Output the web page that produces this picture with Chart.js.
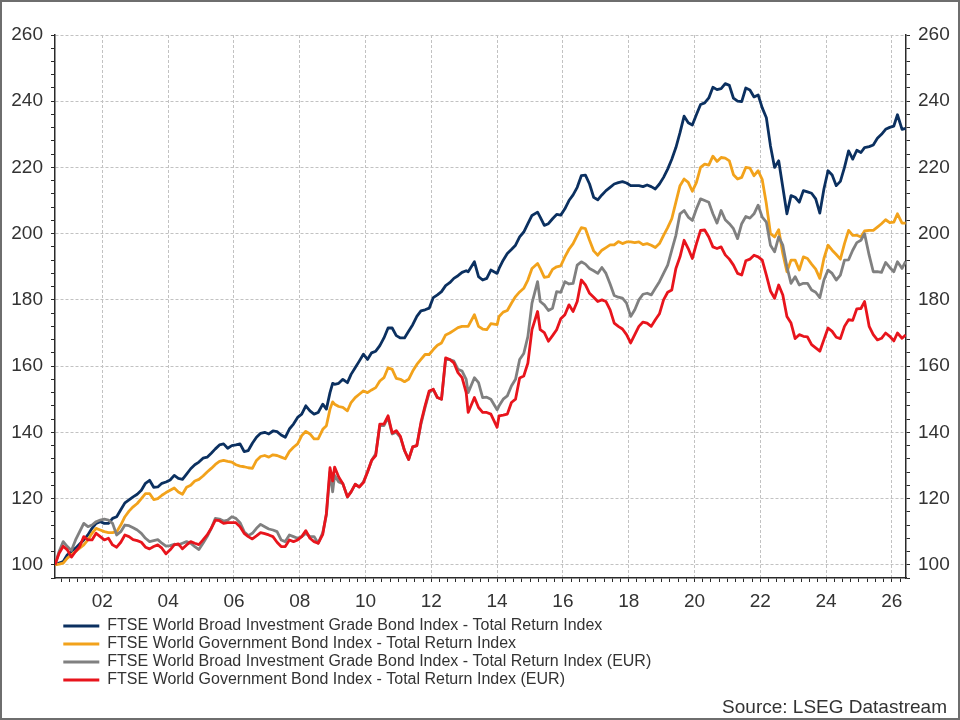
<!DOCTYPE html>
<html>
<head>
<meta charset="utf-8">
<script src="https://cdn.jsdelivr.net/npm/chart.js@4.4.1/dist/chart.umd.min.js"></script>
<style>
html,body{margin:0;padding:0;background:#fff;}
#frame{width:960px;height:720px;box-sizing:border-box;border:2px solid #6e6e6e;background:#fff;}
canvas{display:block;}
</style>
</head>
<body>
<div id="frame"><canvas id="c" width="956" height="716" style="width:956px;height:716px"></canvas></div>
<script>
// Dates as decimal years
const dates = [
2000.56,2000.685,2000.81,2000.935,2001.06,2001.185,2001.31,2001.435,2001.56,2001.685,
2001.81,2001.935,2002.06,2002.185,2002.31,2002.435,2002.56,2002.685,2002.81,2002.935,
2003.06,2003.185,2003.31,2003.435,2003.56,2003.685,2003.81,2003.935,2004.06,2004.185,
2004.31,2004.435,2004.56,2004.685,2004.81,2004.935,2005.06,2005.185,2005.31,2005.435,
2005.56,2005.685,2005.81,2005.935,2006.06,2006.185,2006.31,2006.435,2006.56,2006.685,
2006.81,2006.935,2007.06,2007.185,2007.31,2007.435,2007.56,2007.685,2007.81,2007.935,
2008.06,2008.185,2008.31,2008.435,2008.56,2008.70,2008.81,2008.92,2009.00,2009.06,
2009.185,2009.31,2009.45,2009.56,2009.685,2009.81,2009.935,2010.06,2010.185,2010.31,
2010.435,2010.56,2010.685,2010.81,2010.935,2011.06,2011.185,2011.31,2011.435,2011.56,
2011.685,2011.81,2011.935,2012.06,2012.185,2012.31,2012.435,2012.56,2012.685,2012.81,
2012.935,2013.06,2013.12,2013.31,2013.435,2013.56,2013.685,2013.81,2014.00,2014.06,
2014.185,2014.31,2014.435,2014.56,2014.685,2014.81,2014.935,2015.06,2015.23,2015.31,
2015.435,2015.56,2015.685,2015.81,2015.935,2016.06,2016.185,2016.31,2016.435,2016.56,
2016.685,2016.81,2016.935,2017.06,2017.185,2017.31,2017.435,2017.56,2017.685,2017.81,
2017.935,2018.06,2018.185,2018.31,2018.435,2018.56,2018.685,2018.81,2018.935,2019.06,
2019.185,2019.31,2019.435,2019.56,2019.685,2019.81,2019.935,2020.06,2020.185,2020.31,
2020.435,2020.56,2020.685,2020.81,2020.935,2021.06,2021.185,2021.31,2021.435,2021.56,
2021.685,2021.81,2021.935,2022.06,2022.185,2022.31,2022.435,2022.56,2022.685,2022.81,
2022.935,2023.06,2023.185,2023.31,2023.435,2023.56,2023.685,2023.81,2023.935,2024.06,
2024.185,2024.31,2024.435,2024.56,2024.685,2024.81,2024.935,2025.06,2025.17,2025.31,
2025.435,2025.56,2025.685,2025.81,2025.935,2026.06,2026.17,2026.31,2026.42
];

// FTSE World Broad Investment Grade Bond Index - Total Return Index
const wbig = [
100,100.5,101,103,104,105,106.3,107.5,109,111,
112.5,113,112.5,112.5,114,114.5,116.6,118.7,119.6,120.5,
121.3,122.5,124.6,125.5,123.4,123.5,124.6,125,125.6,127,
126.1,125.8,127.4,129,130.2,131,132.2,132.5,133.7,135,
136.2,136.5,135.2,136,136.2,136.5,134.2,134.5,136.7,138.5,
139.7,140,139.5,140.4,140.2,139.2,138.5,141,142.5,144.5,
145.5,148,146.5,145.5,146,148.5,147,152,154.8,154.5,
154.8,156,155,157.5,159.5,161.5,163.6,162,164,164.5,
166.2,168.5,171.5,171.5,169.2,168.5,168.5,170.5,172.5,175,
176.7,177,177.5,180.7,181.5,182.5,184.3,185.2,186.5,187.3,
188.3,188.8,188.5,191.5,187,186,186.5,189,188,189.5,
192,194,195.2,196.5,199,200.5,203,205.5,206.5,205,
202.5,203,204.5,205.8,205.6,207.5,210,211.7,214,217.5,
217.7,215,211,210.2,211.7,213,214,215,215.4,215.7,
215.3,214.5,214.5,214.5,214.2,214.7,214.2,213.5,215,217,
219.5,222.5,226,230.5,235.5,233.5,232.8,236,239,239.5,
241,244.2,243.5,243.8,245.3,244.8,240.9,240,239.9,244,
243.4,241.3,241.9,238,235,226.5,220,222,214,206,
211.5,211,209.5,213,212.6,212.2,210.5,206.2,213.5,219,
217.7,214.5,215.8,220,225,222.5,225.2,224.5,226,226.3,
226.8,228.8,230,231.5,232.1,232.5,235.9,231.5,231.8
];

// FTSE World Government Bond Index - Total Return Index
const wgbi = [
100,100.2,100.5,102,103,104,105,106,107.5,109.5,
111,110.5,110,109.7,109.7,110,112,114.5,116.2,117.5,
118.5,120,121.5,121.5,119.7,120,121,121.8,122.5,123.2,
122,121.3,123.4,124,125.3,125.8,126.8,128,129.1,130.3,
131.2,131.5,131.2,131,130.2,129.8,129.6,129.3,129.1,131.5,
132.7,133,132.5,133.2,133,132.5,132,134.2,135.5,136.5,
139,140.3,139.5,138,138,140.9,142,147,149.2,148.5,
147.8,147.5,146.5,149,150.5,151.5,152.5,152,152.8,153.5,
155.5,156.5,159.5,159,156.3,156,155.3,156,158.5,160.5,
162,163.5,163.5,165,166.3,167,169.4,170,170.8,171.6,
172,172,172,175.5,172,171.2,171,172.8,172.5,175,
176.3,176.8,179,181,182.4,183.5,186,189.5,191,189.5,
186.8,187,189.2,190,190.3,193,195.3,197,199.5,201.8,
201.5,198,194.8,193.5,195,195.8,196.6,196.6,197.6,197,
197.5,197.5,197.3,197.5,196.7,197,196.5,195.8,197,199.5,
201.8,204.5,209.5,214.5,216.5,215.5,212.8,215.5,220,221,
220.7,223.4,221.8,223,222.8,222,217.8,216.5,217,220,
219.8,217.5,219,216.3,209,200,199,201.2,194,188.5,
192,192,189,193,192.5,190.8,189.3,186.5,192.5,196.5,
195,193.7,192.3,197,201,199.5,199.5,199,200.8,201,
201,202,203,204.2,203.3,203.5,206,203.2,203.2
];

// FTSE World Broad Investment Grade Bond Index - Total Return Index (EUR)
const wbigEur = [
100,104,107,105.5,104.3,107.5,110,112.5,111.5,112,
113,113.5,113.8,113.5,112.5,109,110,112,111.8,111.2,
110.5,109.5,108,107,107.3,107.6,106.5,105.6,105.8,106.2,
106,106.5,107,106.5,105.5,104.6,106.5,108.5,111,114,
113.8,113.2,113.5,114.5,114,112.7,110,108.8,109.5,111,
112.2,111.5,110.8,110.5,110,107.5,107,109,108.5,108,
108.5,109.5,108.5,108.5,106.5,109.7,115,128,122,127,
125,124.5,120.5,122,124.3,123.5,125,128,131.5,133.5,
142,142,144.5,139.5,140,138.5,134.5,131.8,135.6,136,
142.5,147.5,152,153,150.5,150,162,162,161.5,159,
158.5,156,152,156.5,155,150.5,150.6,150,146.8,148,
150,151,154,156,162,163.8,168.9,179,185.5,179.5,
178.5,176.8,177.5,182.5,182.3,185.5,184.8,185,190.5,191.5,
190.8,189.5,188.8,188,189.8,188,184.8,181.3,180.8,180.5,
179,175,177,180,181.7,182,181.5,183.5,185.5,188,
190.5,195,199.5,206,207,205,204,207.5,210.5,210,
209.5,206,203.2,207,204.2,203,201.5,198.5,203,205.2,
204.7,206,208.6,205,203.5,196.5,194.5,199,196.5,190,
185,187,184.5,185,185,183,182.3,180.7,186,189,
188,186,187.5,192,192.1,195,197.3,198,200,193.5,
188.5,188.5,188.3,191.3,189.8,188.5,191.5,189.5,191.6
];

// FTSE World Government Bond Index - Total Return Index (EUR)
const wgbiEur = [
100,103.5,105.6,104.5,102.3,104,105.5,108.5,107.5,107.5,
109.5,108.5,107.5,108,106,105.3,106.8,109,108.5,107.6,
107.3,106.8,105.3,104.8,105.5,106,105,103.3,104.5,106,
106.3,104.8,106,107,106.5,106.1,107.5,109,111,113.5,
113.3,112.5,112.7,112.7,112.7,111.5,109.5,108.5,107.8,108.7,
109.7,109.4,109,108.5,106.8,105.5,105.5,107.5,107,107.5,
108.5,110.3,108,107,106.5,109.2,115.5,129.3,125.3,129.5,
126.5,124.5,120.5,122,124.3,123.5,124.8,128,131.5,133,
142.5,142.5,145,139.8,140.5,138.8,134.5,131.8,135.6,136,
143,148,152.5,153,150.5,150,162.5,162,161,158,
156.5,152,146,150.5,147.5,146,146,145.5,141.5,145,
145.2,145.5,149,150,156.4,157,160.9,171,176.5,171,
170.1,167.5,169.2,171,174.3,175.5,178.5,176.5,179.5,186,
184.5,182,180.8,179.5,180,179.5,177,173,172,171.2,
169.5,167,169.5,172,173.3,173,172,174,175.8,180,
182.3,183,189.5,193,198,195.5,192.5,197,201,201.1,
199,196,195.5,196,193.6,192.3,190.5,188,187.5,191.8,
192.3,193.5,193,192,187.5,182.7,180.5,184.5,181.5,175,
173,168.3,169.5,169,168.8,166.5,165.5,164.5,168,171.5,
170.5,168.7,168.3,172,174,173.8,177.3,177.4,179.5,172,
169.5,167.9,168.4,170,169,167.6,170,168.4,169.4
];

const seriesLabels = [
  'FTSE World Broad Investment Grade Bond Index - Total Return Index',
  'FTSE World Government Bond Index - Total Return Index',
  'FTSE World Broad Investment Grade Bond Index - Total Return Index (EUR)',
  'FTSE World Government Bond Index - Total Return Index (EUR)'
];
const seriesColors = ['#0b3060', '#f2a21b', '#808080', '#e8141c'];
const seriesValues = [wbig, wgbi, wbigEur, wgbiEur];
const yTickMin = 96, yTickMax = 260, yMajorStep = 20, yMinorStep = 4;
const xMin = 2000.56, xMax = 2026.43;
const sourceText = 'Source: LSEG Datastream';

const FONT = "'Liberation Sans', Arial, Helvetica, sans-serif";
Chart.defaults.font.family = FONT;

function isMajorYear(v) {
  if (v === undefined || v === null) return false;
  const r = Math.round(v);
  return Math.abs(v - r) < 0.01 && r % 2 === 0;
}
function isMajorY(v) {
  if (v === undefined || v === null) return false;
  return Math.abs(v % yMajorStep) < 0.01 && v >= 100;
}

const datasets = seriesValues.map((vals, i) => ({
  label: seriesLabels[i],
  data: dates.map((d, j) => ({x: d, y: vals[j]})),
  borderColor: seriesColors[i],
  backgroundColor: seriesColors[i],
  borderWidth: 2.8,
  pointRadius: 0,
  tension: 0,
  borderJoinStyle: 'round',
  order: 4 - i,
  yAxisID: 'y'
}));

const shiftPlugin = {
  id: 'shiftBoxes',
  afterLayout(chart) {
    if (chart.legend) { chart.legend.left += 59.3; chart.legend.right += 59.3; }
    if (chart.titleBlock) { chart.titleBlock.left -= 11; chart.titleBlock.right -= 11; }
  }
};

const yAxisCommon = (pos) => ({
  type: 'linear',
  position: pos,
  min: yTickMin,
  max: yTickMax,
  afterFit: s => { s.width = pos === 'left' ? 53 : 52; },
  border: {display: true, color: '#2a2a2a', width: 1.5, dash: [3, 2]},
  grid: {
    drawOnChartArea: pos === 'left',
    color: c => isMajorY(c.tick && c.tick.value) ? '#c2c2c2' : 'rgba(0,0,0,0)',
    lineWidth: 1,
    tickLength: 4,
    tickColor: '#2a2a2a',
    tickWidth: 1
  },
  ticks: {
    stepSize: yMinorStep,
    autoSkip: false,
    maxTicksLimit: 100,
    includeBounds: false,
    padding: 8,
    color: '#333',
    font: {size: 19, family: FONT},
    callback: v => isMajorY(v) ? String(v) : ''
  }
});

new Chart(document.getElementById('c'), {
  type: 'line',
  data: {datasets},
  plugins: [shiftPlugin],
  options: {
    responsive: false,
    animation: false,
    layout: {padding: {top: 33, left: 0, right: 0, bottom: 1}},
    scales: {
      x: {
        type: 'linear',
        min: xMin,
        max: xMax,
        afterFit: s => { s.height = 38; },
        border: {display: true, color: '#2a2a2a', width: 1.5, dash: [3, 2]},
        grid: {
          color: c => isMajorYear(c.tick && c.tick.value) ? '#c2c2c2' : 'rgba(0,0,0,0)',
          lineWidth: 1,
          tickLength: 4,
          tickColor: '#2a2a2a',
          tickWidth: 1
        },
        ticks: {
          stepSize: 0.25,
          includeBounds: false,
          autoSkip: false,
          maxRotation: 0,
          minRotation: 0,
          maxTicksLimit: 200,
          padding: 8,
          color: '#333',
          font: {size: 19, family: FONT},
          callback: v => isMajorYear(v) ? String(Math.round(v) % 100).padStart(2, '0') : ''
        }
      },
      y: yAxisCommon('left'),
      y2: yAxisCommon('right')
    },
    plugins: {
      legend: {
        display: true,
        position: 'bottom',
        align: 'start',
        labels: {
          boxWidth: 36,
          boxHeight: 3,
          padding: 2,
          color: '#333',
          font: {size: 16, family: FONT},
          generateLabels: chart => chart.data.datasets.map((ds, i) => ({
            text: ds.label,
            fillStyle: ds.borderColor,
            strokeStyle: ds.borderColor,
            lineWidth: 0,
            hidden: false,
            datasetIndex: i,
            fontColor: '#333'
          }))
        }
      },
      title: {
        display: true,
        text: sourceText,
        position: 'bottom',
        align: 'end',
        color: '#333',
        padding: {top: 0, bottom: 0},
        font: {size: 19, family: FONT, weight: 'normal', lineHeight: 1}
      },
      tooltip: {enabled: false}
    }
  }
});
</script>
</body>
</html>
